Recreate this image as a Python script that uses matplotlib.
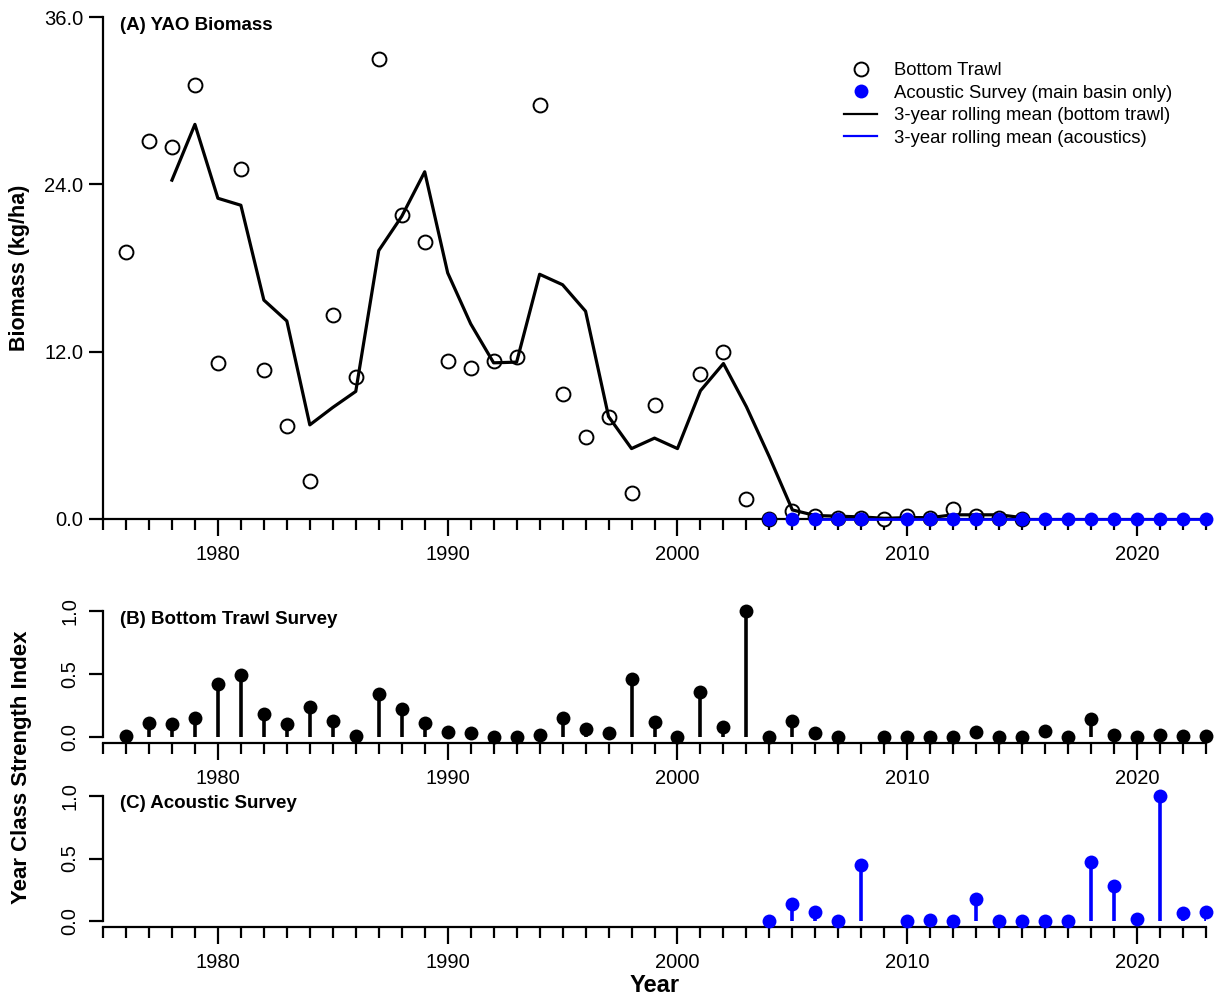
import numpy as np
import matplotlib.pyplot as plt
from matplotlib.lines import Line2D
from matplotlib.ticker import MultipleLocator

plt.rcParams['font.family'] = ['Liberation Sans', 'DejaVu Sans']

# (A) biomass, bottom trawl (no survey in 2000)
bt_years = list(range(1976, 2000)) + list(range(2001, 2016))
bt_biomass = [19.15, 27.1, 26.7, 31.1, 11.2, 25.1, 10.7, 6.7, 2.7, 14.6,
              10.2, 33.0, 21.8, 19.9, 11.3, 10.8, 11.35, 11.6, 29.7, 9.0,
              5.9, 7.3, 1.9, 8.2,
              10.4, 12.0, 1.4, 0.0, 0.6, 0.2, 0.05, 0.05, 0.0, 0.2,
              0.05, 0.7, 0.2, 0.1, 0.0]

bt_roll_years = list(range(1978, 2016))
bt_roll = [24.3, 28.3, 23.0, 22.5, 15.7, 14.2, 6.75, 8.0, 9.15, 19.25,
           21.7, 24.9, 17.65, 14.0, 11.2, 11.25, 17.55, 16.8, 14.9, 7.35,
           5.05, 5.8, 5.05, 9.2, 11.15, 8.05, 4.45, 0.65, 0.25, 0.2,
           0.15, 0.05, 0.1, 0.1, 0.3, 0.3, 0.3, 0.1]

# acoustic survey (no survey in 2009)
ac_years = [2004, 2005, 2006, 2007, 2008, 2010, 2011, 2012, 2013, 2014,
            2015, 2016, 2017, 2018, 2019, 2020, 2021, 2022, 2023]
ac_biomass = [0.01, 0.02, 0.02, 0.01, 0.02, 0.01, 0.02, 0.01, 0.02, 0.01,
              0.01, 0.01, 0.01, 0.02, 0.02, 0.01, 0.03, 0.02, 0.02]
ac_roll_years = list(range(2006, 2024))
ac_roll = [0.02] * 18

# (B) year class strength, bottom trawl (no 2008)
ycs_bt_years = list(range(1976, 2008)) + list(range(2009, 2024))
ycs_bt = [0.01, 0.11, 0.105, 0.15, 0.42, 0.49, 0.18, 0.105, 0.24, 0.13,
          0.01, 0.345, 0.22, 0.11, 0.04, 0.03, 0.0, 0.0, 0.02, 0.15,
          0.065, 0.03, 0.46, 0.12, 0.0, 0.355, 0.08, 1.0, 0.0, 0.13,
          0.03, 0.0,
          0.0, 0.005, 0.005, 0.005, 0.04, 0.0, 0.0, 0.05, 0.0, 0.14,
          0.02, 0.0, 0.02, 0.01, 0.01]

# (C) year class strength, acoustics
ycs_ac = [0.0, 0.135, 0.07, 0.0, 0.45, 0.0, 0.01, 0.0, 0.18, 0.0,
          0.0, 0.0, 0.0, 0.47, 0.28, 0.015, 1.0, 0.065, 0.075]

W, H = 1217, 998
fig = plt.figure(figsize=(W / 100, H / 100), dpi=100)

def rect(l, t, r, b):
    return [l / W, 1 - b / H, (r - l) / W, (b - t) / H]

def fxy(x, y):
    return x / W, 1 - y / H

axA = fig.add_axes(rect(103, 17, 1206, 519))
axB = fig.add_axes(rect(103, 605, 1206, 743))
axC = fig.add_axes(rect(103, 790, 1206, 927))

def style(ax):
    for s in ['top', 'right']:
        ax.spines[s].set_visible(False)
    for s in ['left', 'bottom']:
        ax.spines[s].set_linewidth(1.6)
    ax.set_xlim(1975, 2023)
    ax.spines['bottom'].set_bounds(1975, 2023)
    ax.xaxis.set_major_locator(MultipleLocator(10))
    ax.xaxis.set_minor_locator(MultipleLocator(1))
    ax.tick_params(axis='x', which='major', length=12, width=1.6,
                   labelsize=14.5, pad=7)
    ax.tick_params(axis='x', which='minor', length=8, width=1.6)
    ax.tick_params(axis='y', length=10, width=1.6, labelsize=14.5)

# panel A
style(axA)
axA.set_ylim(0, 36)
axA.set_yticks([0, 12, 24, 36])
axA.set_yticklabels(['0.0', '12.0', '24.0', '36.0'])
axA.tick_params(axis='y', pad=4)
axA.plot(bt_years, bt_biomass, 'o', mfc='white', mec='black', ms=10,
         mew=1.4, clip_on=False, zorder=3)
axA.plot(bt_roll_years, bt_roll, '-', color='black', lw=2.3, zorder=4)
axA.plot(ac_roll_years, ac_roll, '-', color='#0000FF', lw=2.0, zorder=4,
         clip_on=False)
axA.plot(ac_years, ac_biomass, 'o', color='#0000FF', ms=10, mew=0,
         clip_on=False, zorder=5)
fig.text(*fxy(120, 26), '(A) YAO Biomass', fontsize=13.5,
         fontweight='bold', va='center')
axA.set_ylabel('Biomass (kg/ha)', fontsize=15.5, fontweight='bold', labelpad=10)

handles = [
    Line2D([], [], ls='none', marker='o', mfc='white', mec='black', ms=10, mew=1.4),
    Line2D([], [], ls='none', marker='o', color='#0000FF', ms=10, mew=0),
    Line2D([], [], color='black', lw=1.6),
    Line2D([], [], color='#0000FF', lw=1.6),
]
labels = ['Bottom Trawl', 'Acoustic Survey (main basin only)',
          '3-year rolling mean (bottom trawl)', '3-year rolling mean (acoustics)']
fig.legend(handles, labels, loc='upper left',
           bbox_to_anchor=fxy(844, 62), frameon=False, fontsize=13.3,
           handlelength=1.8, handletextpad=0.9, labelspacing=0.3,
           borderpad=0, borderaxespad=0)

# panels B and C
def lollipop(ax, yrs, vals, col):
    style(ax)
    ax.set_ylim(-0.046, 1.046)
    ax.spines['left'].set_bounds(0, 1)
    ax.set_yticks([0, 0.5, 1.0])
    ax.set_yticklabels(['0.0', '0.5', '1.0'], rotation=90, va='center')
    ax.tick_params(axis='y', pad=7)
    ax.vlines(yrs, 0, vals, color=col, lw=2.6)
    ax.plot(yrs, vals, 'o', color=col, ms=10, mew=0, clip_on=False, zorder=3)

lollipop(axB, ycs_bt_years, ycs_bt, 'black')
fig.text(*fxy(120, 619), '(B) Bottom Trawl Survey', fontsize=13.5,
         fontweight='bold', va='center')

lollipop(axC, ac_years, ycs_ac, '#0000FF')
fig.text(*fxy(120, 803), '(C) Acoustic Survey', fontsize=13.5,
         fontweight='bold', va='center')

fig.text(*fxy(655, 985), 'Year', fontsize=17, fontweight='bold',
         ha='center', va='center')
fig.text(*fxy(22, 767), 'Year Class Strength Index', rotation=90,
         fontsize=16, fontweight='bold', ha='center', va='center')

fig.savefig('out.png', dpi=100)
